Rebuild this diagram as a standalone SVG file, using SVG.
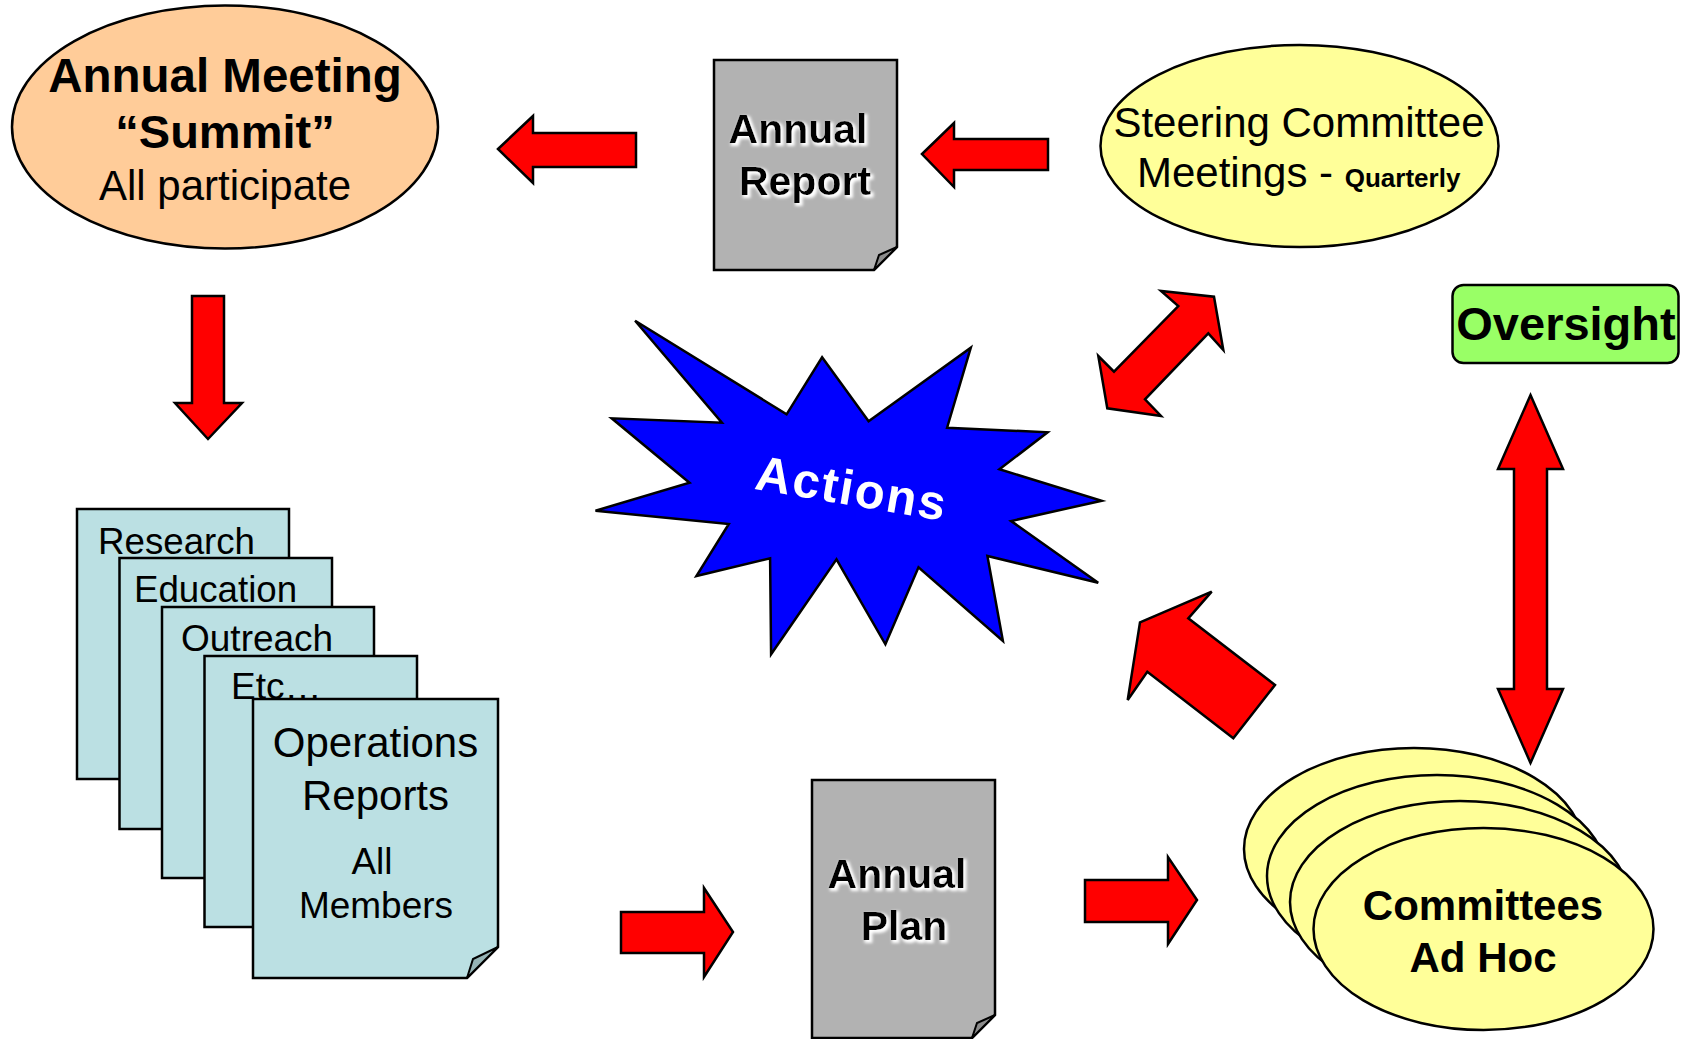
<svg xmlns="http://www.w3.org/2000/svg" width="1688" height="1039" viewBox="0 0 1688 1039">
<defs>
<style>
text{font-family:"Liberation Sans",Arial,sans-serif;fill:#000}
.b{font-weight:bold}
.shape{stroke:#000;stroke-width:2.5;stroke-linejoin:miter}
.arrow{fill:#ff0000;stroke:#000;stroke-width:2.5;stroke-linejoin:miter}
.page{fill:#bbe0e3;stroke:#000;stroke-width:2.5}
.doc{fill:#b2b2b2;stroke:#000;stroke-width:2.5}
.yel{fill:#ffff99;stroke:#000;stroke-width:2.5}
</style>
<filter id="glow" x="-20%" y="-30%" width="140%" height="160%">
<feMorphology in="SourceAlpha" operator="dilate" radius="1" result="d"/>
<feGaussianBlur in="d" stdDeviation="1.5" result="bl"/>
<feOffset in="bl" dx="2" dy="2" result="o"/>
<feFlood flood-color="#ffffff"/>
<feComposite in2="o" operator="in" result="w"/>
<feMerge><feMergeNode in="w"/><feMergeNode in="SourceGraphic"/></feMerge>
</filter>
</defs>
<rect width="1688" height="1039" fill="#ffffff"/>

<g id="annual-meeting">
<ellipse class="shape" cx="225" cy="127" rx="213" ry="121.5" fill="#ffcc99"/>
<text class="b" x="225" y="92" font-size="47.5" text-anchor="middle">Annual Meeting</text>
<text class="b" x="225" y="148" font-size="47" text-anchor="middle">“Summit”</text>
<text x="225" y="200" font-size="42" text-anchor="middle">All participate</text>
</g>

<g id="annual-report">
<path class="doc" d="M714,60 H897 V247 L874,270 H714 Z"/>
<path d="M874,270 L879,255 L897,247 Z" fill="#8c8c8c" stroke="#000" stroke-width="2"/>
<g filter="url(#glow)">
<text class="b" x="798" y="143" font-size="41" text-anchor="middle">Annual</text>
<text class="b" x="805" y="195" font-size="41" text-anchor="middle">Report</text>
</g>
</g>

<g id="steering-committee">
<ellipse class="yel" cx="1299.5" cy="146" rx="199" ry="101"/>
<text x="1299" y="137" font-size="42" text-anchor="middle">Steering Committee</text>
<text x="1137" y="187" font-size="42">Meetings - <tspan class="b" font-size="26">Quarterly</tspan></text>
</g>

<g id="oversight">
<rect class="shape" x="1452.5" y="285" width="226" height="78" rx="11" fill="#99ff66"/>
<text class="b" x="1566" y="340" font-size="47" text-anchor="middle">Oversight</text>
</g>

<g id="actions">
<polygon class="shape" fill="#0000ff" points="635.1,320.7 786.6,414.3 822.1,357.3 868.6,421.3 970.8,347.7 947.1,427.7 1047.6,432.3 999.4,469.3 1101.7,500.7 1011.1,521 1098.2,582.7 987.4,556 1002.9,641 918.5,567.3 885.4,644.3 836.5,559.3 771.1,654.3 770.1,558.3 696.4,576 728.8,524 595.5,510.7 689.5,482.7 611.7,418.3 721.9,422.7"/>
<text class="b" x="849" y="505" font-size="49" letter-spacing="2" text-anchor="middle" transform="rotate(9.6 849 505)" style="fill:#ffffff">Actions</text>
</g>

<g id="operations-reports">
<rect class="page" x="77" y="509" width="212" height="270"/>
<text x="98" y="554" font-size="36.7">Research</text>
<rect class="page" x="119.5" y="558" width="212.5" height="271"/>
<text x="134" y="602" font-size="36.7">Education</text>
<rect class="page" x="162" y="607" width="212" height="271"/>
<text x="181" y="651" font-size="37">Outreach</text>
<rect class="page" x="204.5" y="656" width="212.5" height="271"/>
<text x="231" y="699" font-size="37">Etc…</text>
<path class="page" d="M253,699 H498 V947 L467,978 H253 Z"/>
<path d="M467,978 L473,959 L498,947 Z" fill="#96b4b6" stroke="#000" stroke-width="2"/>
<text x="375.5" y="757" font-size="42" text-anchor="middle">Operations</text>
<text x="375.5" y="810" font-size="42" text-anchor="middle">Reports</text>
<text x="372" y="874" font-size="37" text-anchor="middle">All</text>
<text x="376" y="918" font-size="37" text-anchor="middle">Members</text>
</g>

<g id="annual-plan">
<path class="doc" d="M812,780 H995 V1015 L972,1038 H812 Z"/>
<path d="M972,1038 L977,1023 L995,1015 Z" fill="#8c8c8c" stroke="#000" stroke-width="2"/>
<g filter="url(#glow)">
<text class="b" x="897" y="888" font-size="41" text-anchor="middle">Annual</text>
<text class="b" x="904" y="940" font-size="41" text-anchor="middle">Plan</text>
</g>
</g>

<g id="committees">
<ellipse class="yel" cx="1414" cy="849" rx="170" ry="101"/>
<ellipse class="yel" cx="1437" cy="876" rx="170" ry="101"/>
<ellipse class="yel" cx="1460" cy="902" rx="170" ry="101"/>
<ellipse class="yel" cx="1483.5" cy="929" rx="170" ry="101"/>
<text class="b" x="1483" y="920" font-size="42" text-anchor="middle">Committees</text>
<text class="b" x="1483" y="972" font-size="42" text-anchor="middle">Ad Hoc</text>
</g>

<g id="connectors">
<polygon class="arrow" points="498,149 533,116 533,133 636,133 636,167 533,167 533,183"/>
<polygon class="arrow" points="922,154 954,123 954,139 1048,139 1048,170 954,170 954,187"/>
<polygon class="arrow" points="192,296 224,296 224,403 242,403 208,439 175,403 192,403"/>
<polygon class="arrow" points="621,912 704,912 704,888 733,932 704,977 704,953 621,953"/>
<polygon class="arrow" points="1085,880 1168,880 1168,857 1197,900 1168,944 1168,922 1085,922"/>
<polygon class="arrow" points="1214,296.7 1223.3,350 1208.3,333.3 1145,399.3 1161,416 1107.3,408.3 1098.3,356 1114,371.7 1178.3,306 1161,291"/>
<polygon class="arrow" points="1140,622.3 1211.7,591.7 1188.3,618.3 1275,685 1233.3,738.3 1147.3,671.7 1127.7,700"/>
<polygon class="arrow" points="1530.5,395 1563,469 1547,469 1547,689 1563,689 1530.5,763 1498,689 1514,689 1514,469 1498,469"/>
</g>
</svg>
